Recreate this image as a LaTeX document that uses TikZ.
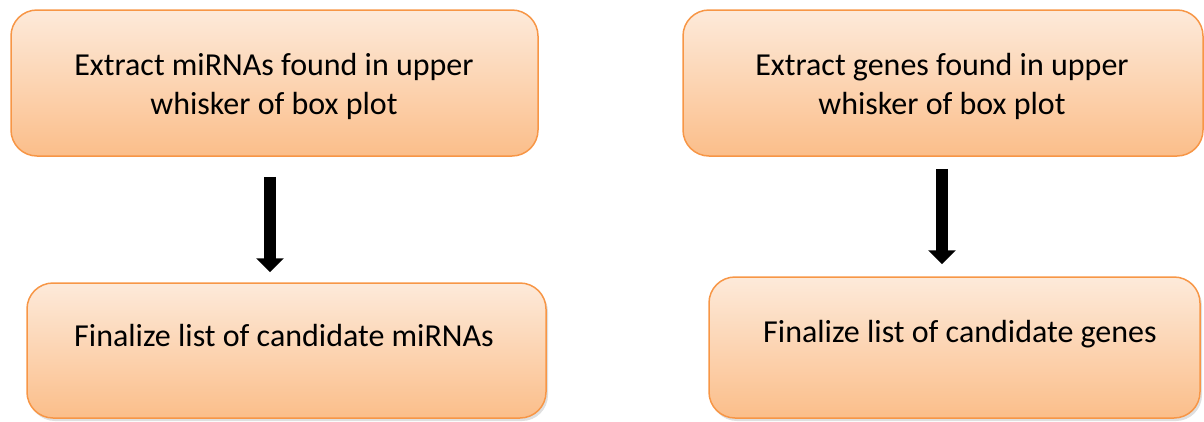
\documentclass[tikz,border=0pt]{standalone}
\usepackage{fontspec}
\setmainfont{Carlito}
\usetikzlibrary{arrows.meta,shadows}
\definecolor{boxedge}{RGB}{247,150,70}
\definecolor{boxtop}{RGB}{253,234,218}
\definecolor{boxbottom}{RGB}{251,190,138}
\tikzset{
	stepbox/.style={draw=boxedge, line width=1.5pt, rounded corners=26pt, top color=boxtop, bottom color=boxbottom, inner sep=0pt},
	boxtext/.style={align=center, font=\fontsize{32}{39}\selectfont, inner sep=0pt},
	bigarrow/.style={line width=12pt, -{Triangle[width=27pt,length=14pt]}},
	lowshadow/.style={drop shadow={shadow xshift=2pt, shadow yshift=-3pt, opacity=0.25}}
}

\begin{document}
\begin{tikzpicture}[x=1pt,y=-1pt]
			%%%%% START %%%%%
			\useasboundingbox (0,0) rectangle (1204,421);
			
			% miRNA side
			\node[stepbox, minimum width=527pt, minimum height=146pt] (mirtop) at (274.5,83) {};
			\node[boxtext] (mirtoptext) at (274,86.5) {Extract miRNAs found in upper\\whisker of box plot};
			
			\node[stepbox, lowshadow, minimum width=519pt, minimum height=135pt] (mirfinal) at (286.5,350.5) {};
			\node[boxtext, anchor=base] (mirfinaltext) at (284,346) {Finalize list of candidate miRNAs};
			
			\draw[bigarrow] ([xshift=-4.5pt,yshift=-20pt]mirtop.south) -- ([xshift=-16.5pt,yshift=10pt]mirfinal.north);
			
			% gene side
			\node[stepbox, minimum width=520pt, minimum height=146pt] (genetop) at (943,83) {};
			\node[boxtext] (genetoptext) at (942,86.5) {Extract genes found in upper\\whisker of box plot};
			
			\node[stepbox, lowshadow, minimum width=491pt, minimum height=141pt] (genefinal) at (954.5,347.5) {};
			\node[boxtext, anchor=base] (genefinaltext) at (960,342) {Finalize list of candidate genes};
			
			\draw[bigarrow] ([xshift=-1pt,yshift=-12pt]genetop.south) -- ([xshift=-12.5pt,yshift=12pt]genefinal.north);
			%%%%% END %%%%%
\end{tikzpicture}
\end{document}
